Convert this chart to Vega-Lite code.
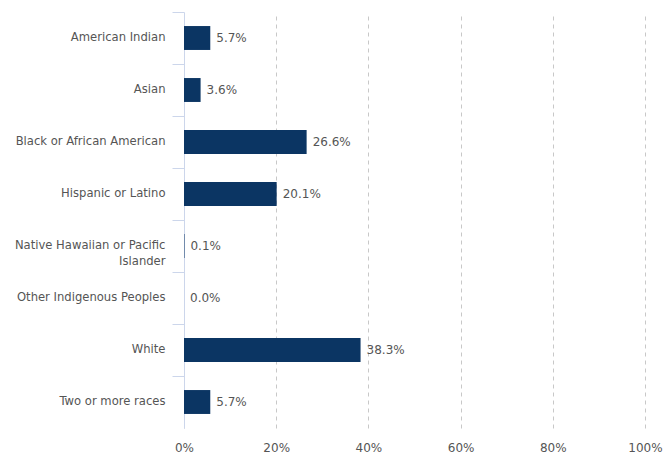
{
  "$schema": "https://vega.github.io/schema/vega-lite/v6.json",
  "width": 461,
  "height": 416,
  "autosize": {"type": "none"},
  "padding": {"left": 184, "top": 12, "right": 22, "bottom": 28},
  "background": "white",
  "data": {
    "values": [
      {"group": "American Indian", "share": 0.057},
      {"group": "Asian", "share": 0.036},
      {"group": "Black or African American", "share": 0.266},
      {"group": "Hispanic or Latino", "share": 0.201},
      {"group": "Native Hawaiian or Pacific Islander", "share": 0.001},
      {"group": "Other Indigenous Peoples", "share": 0.0},
      {"group": "White", "share": 0.383},
      {"group": "Two or more races", "share": 0.057}
    ]
  },
  "config": {
    "view": {"stroke": null},
    "font": "DejaVu Sans"
  },
  "encoding": {
    "y": {
      "field": "group",
      "type": "nominal",
      "sort": null,
      "scale": {"paddingInner": 0, "paddingOuter": 0},
      "axis": {
        "title": null,
        "bandPosition": 0,
        "ticks": true,
        "tickSize": 12,
        "tickColor": "#ccd6eb",
        "domainColor": "#ccd6eb",
        "labelPadding": 7,
        "labelFont": "DejaVu Sans",
        "labelFontSize": 11.6,
        "labelColor": "#555555",
        "labelLimit": 200,
        "labelLineHeight": 16,
        "grid": false,
        "labelExpr": "datum.label == 'Native Hawaiian or Pacific Islander' ? ['Native Hawaiian or Pacific', 'Islander'] : datum.label"
      }
    },
    "x": {
      "field": "share",
      "type": "quantitative",
      "scale": {"domain": [0, 1], "nice": false},
      "axis": {
        "title": null,
        "format": ".0%",
        "values": [0, 0.2, 0.4, 0.6, 0.8, 1],
        "domain": false,
        "ticks": false,
        "labelPadding": 14,
        "labelFont": "DejaVu Sans",
        "labelFontSize": 12,
        "labelColor": "#555555",
        "grid": true,
        "gridColor": "#c8c8c8",
        "gridDash": [4, 4],
        "labelFlush": false
      }
    }
  },
  "layer": [
    {
      "mark": {"type": "bar", "color": "#0b3563", "height": {"band": 0.46}}
    },
    {
      "mark": {"type": "text", "align": "left", "baseline": "middle", "dx": 6, "font": "DejaVu Sans", "fontSize": 12, "color": "#555555"},
      "encoding": {
        "text": {"field": "share", "type": "quantitative", "format": ".1%"}
      }
    }
  ]
}
